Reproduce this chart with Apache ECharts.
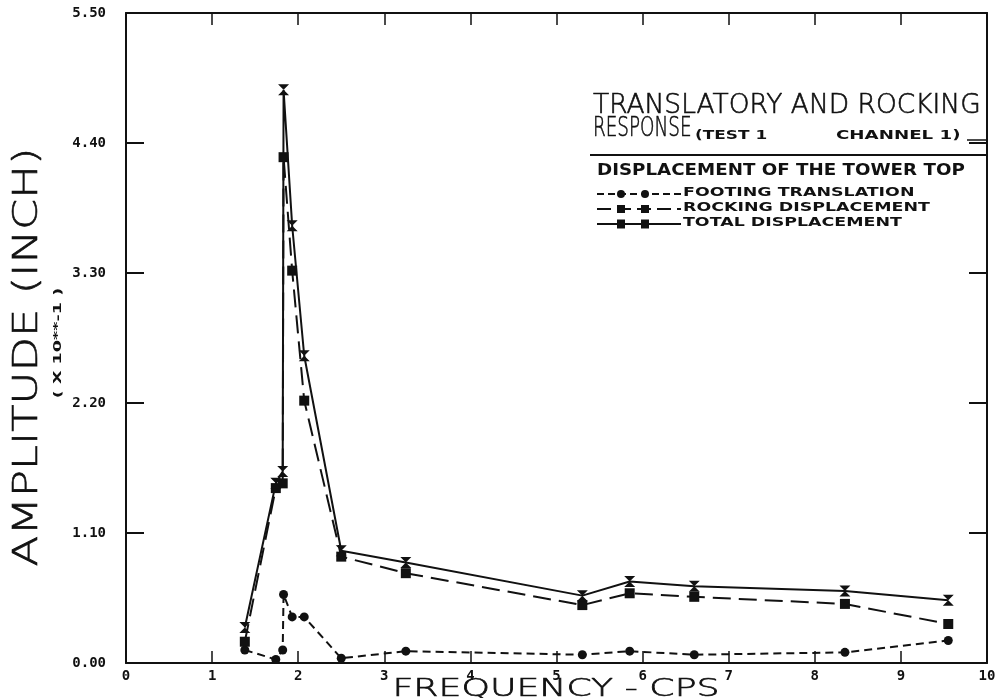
<!DOCTYPE html>
<html>
<head>
<meta charset="utf-8">
<script src="https://cdn.jsdelivr.net/npm/echarts@6/dist/echarts.min.js"></script>
<style>
  html, body { margin: 0; padding: 0; background: #fff; }
  #chart { width: 1000px; height: 698px; }
</style>
</head>
<body>
<div id="chart"></div>
<script>
// Frequency (cps) of each test point
const FREQ = [1.38, 1.74, 1.82, 1.83, 1.93, 2.07, 2.50, 3.25, 5.30, 5.85, 6.60, 8.35, 9.55];
// Amplitudes (inch, x 10**-1)
const TOTAL   = [0.30, 1.52, 1.62, 4.85, 3.70, 2.60, 0.95, 0.85, 0.57, 0.69, 0.65, 0.61, 0.53];
const ROCKING = [0.18, 1.48, 1.52, 4.28, 3.32, 2.22, 0.90, 0.76, 0.49, 0.59, 0.56, 0.50, 0.33];
const FOOTING = [0.11, 0.03, 0.11, 0.58, 0.39, 0.39, 0.04, 0.10, 0.07, 0.10, 0.07, 0.09, 0.19];

const X_TICKS = [0, 1, 2, 3, 4, 5, 6, 7, 8, 9, 10];
const Y_TICKS = [0, 1.10, 2.20, 3.30, 4.40, 5.50];

const SERIES_NAMES = ['FOOTING TRANSLATION', 'ROCKING DISPLACEMENT', 'TOTAL DISPLACEMENT'];

const INK = '#111';
const HOURGLASS = 'path://M0,0 L10,0 L0,10 L10,10 Z';
const MONO = "'DejaVu Sans Mono', 'Liberation Mono', monospace";
const SANS = "'DejaVu Sans', 'Liberation Sans', sans-serif";

function pairs(ys) { return FREQ.map((f, i) => [f, ys[i]]); }

const chart = echarts.init(document.getElementById('chart'), null, { renderer: 'canvas' });

const axisLine = { show: true, onZero: false, lineStyle: { color: INK, width: 2 } };
const xTick = { show: true, inside: true, length: 12, lineStyle: { color: INK, width: 1.5 } };
const yTick = { show: true, inside: true, length: 18, lineStyle: { color: INK, width: 2 } };

const xRange = { type: 'value', min: X_TICKS[0], max: X_TICKS[X_TICKS.length - 1], interval: 1 };
const yRange = { type: 'value', min: Y_TICKS[0], max: Y_TICKS[Y_TICKS.length - 1], interval: 1.1 };

const option = {
  animation: false,
  backgroundColor: '#fff',
  grid: { left: 126, right: 13, top: 13, bottom: 35 },
  xAxis: [
    Object.assign({}, xRange, {
      position: 'bottom', axisLine: axisLine, axisTick: xTick,
      axisLabel: { margin: 6, color: INK, fontFamily: MONO, fontWeight: 'bold', fontSize: 14 },
      splitLine: { show: false }
    }),
    Object.assign({}, xRange, {
      position: 'top', axisLine: axisLine, axisTick: xTick,
      axisLabel: { show: false }, splitLine: { show: false }
    })
  ],
  yAxis: [
    Object.assign({}, yRange, {
      position: 'left', axisLine: axisLine, axisTick: yTick,
      axisLabel: {
        margin: 20, color: INK, fontFamily: MONO, fontWeight: 'bold', fontSize: 14,
        formatter: v => v.toFixed(2)
      },
      splitLine: { show: false }
    }),
    Object.assign({}, yRange, {
      position: 'right', axisLine: axisLine, axisTick: yTick,
      axisLabel: { show: false }, splitLine: { show: false }
    })
  ],
  series: [
    {
      name: SERIES_NAMES[0], type: 'line', data: pairs(FOOTING),
      symbol: 'circle', symbolSize: 9,
      itemStyle: { color: INK },
      lineStyle: { color: INK, width: 2, type: [8, 5] }
    },
    {
      name: SERIES_NAMES[1], type: 'line', data: pairs(ROCKING),
      symbol: 'rect', symbolSize: 10,
      itemStyle: { color: INK },
      lineStyle: { color: INK, width: 2, type: [18, 8] }
    },
    {
      name: SERIES_NAMES[2], type: 'line', data: pairs(TOTAL),
      symbol: HOURGLASS, symbolSize: [11, 11],
      itemStyle: { color: INK },
      lineStyle: { color: INK, width: 2, type: 'solid' }
    }
  ],
  graphic: []
};

// Text helper: anchored text with optional horizontal stretch and stroke weight
function label(text, x, y, font, opts) {
  opts = opts || {};
  const style = {
    text: text, x: 0, y: 0, font: font, fill: INK,
    textAlign: opts.align || 'left', textVerticalAlign: 'bottom',
    align: opts.align || 'left', verticalAlign: 'bottom'
  };
  if (opts.weight) { style.stroke = INK; style.lineWidth = opts.weight; }
  return {
    type: 'text', x: x, y: y, rotation: opts.rotation || 0,
    scaleX: opts.scaleX || 1, scaleY: opts.scaleY || 1,
    silent: true, style: style
  };
}

const g = option.graphic;
const THIN = "normal 200 ";

// Axis titles (thin plotter-style lettering)
g.push(label('FREQUENCY - CPS', 556, 702, THIN + '24px ' + SANS, { align: 'center', scaleX: 1.51, weight: 0.6 }));
g.push(label('AMPLITUDE (INCH)', 45, 357, THIN + '34px ' + SANS, { align: 'center', rotation: Math.PI / 2, scaleX: 1.32, weight: 0.6 }));
g.push(label('( X 10**-1 )', 64, 343, 'bold 11px ' + SANS, { align: 'center', rotation: Math.PI / 2, scaleX: 1.6 }));

// Title block
g.push(label('TRANSLATORY AND ROCKING', 593, 119, THIN + '27px ' + SANS, { scaleX: 0.98, weight: 0.6 }));
g.push(label('RESPONSE', 593, 142, THIN + '27px ' + SANS, { scaleX: 0.68, weight: 0.6 }));
g.push(label('(TEST 1', 695, 142, 'bold 13px ' + SANS, { scaleX: 1.3 }));
g.push(label('CHANNEL 1)', 836, 142, 'bold 13px ' + SANS, { scaleX: 1.4 }));
g.push({ type: 'line', silent: true, shape: { x1: 967, y1: 140, x2: 987, y2: 140 }, style: { stroke: INK, lineWidth: 1.5 } });
g.push({ type: 'line', silent: true, shape: { x1: 590, y1: 155, x2: 987, y2: 155 }, style: { stroke: INK, lineWidth: 2 } });
g.push(label('DISPLACEMENT OF THE TOWER TOP', 597, 179, 'bold 16px ' + SANS, { scaleX: 1.14 }));

// Legend rows: sample line, two markers, name
const legendRows = [
  { y: 194, dash: [7, 4], marker: 'circle' },
  { y: 209, dash: [14, 6], marker: 'rect' },
  { y: 224, dash: null, marker: 'block' }
];
legendRows.forEach((row, i) => {
  g.push({
    type: 'line', silent: true,
    shape: { x1: 597, y1: row.y, x2: 681, y2: row.y },
    style: { stroke: INK, lineWidth: 2, lineDash: row.dash }
  });
  [621, 645].forEach(mx => {
    if (row.marker === 'circle') {
      g.push({ type: 'circle', silent: true, shape: { cx: mx, cy: row.y, r: 4 }, style: { fill: INK } });
    } else if (row.marker === 'rect') {
      g.push({ type: 'rect', silent: true, shape: { x: mx - 4, y: row.y - 4, width: 8, height: 8 }, style: { fill: INK } });
    } else {
      g.push({ type: 'rect', silent: true, shape: { x: mx - 4, y: row.y - 4.5, width: 8, height: 9 }, style: { fill: INK } });
    }
  });
  g.push(label(SERIES_NAMES[i], 683, row.y + 5, 'bold 12px ' + SANS, { scaleX: 1.45 }));
});

chart.setOption(option);
</script>
</body>
</html>
